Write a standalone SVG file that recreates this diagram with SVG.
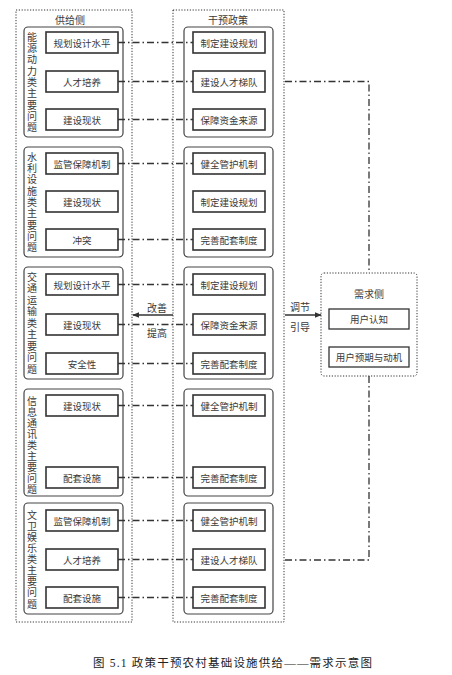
<svg xmlns="http://www.w3.org/2000/svg" width="452" height="675" viewBox="0 0 452 675">
<style>
text{font-family:"Noto Sans CJK SC","Liberation Sans",sans-serif;fill:#3a3a3a;}
.t{font-size:9.5px;text-anchor:middle;dominant-baseline:central;}
.h{font-size:10px;text-anchor:middle;dominant-baseline:central;}
.v{font-size:10px;writing-mode:vertical-rl;text-orientation:upright;letter-spacing:1.3px;}
.outer{fill:none;stroke:#333;stroke-width:1;stroke-dasharray:1.2 1.6;}
.grp{fill:#fff;stroke:#444;stroke-width:1.2;}
.box{fill:#fff;stroke:#333;stroke-width:1.6;}
.dd{fill:none;stroke:#333;stroke-width:1.3;stroke-dasharray:7 3 1.5 3;}
.sol{fill:none;stroke:#333;stroke-width:1.3;}
.cap{font-family:"Liberation Serif","Noto Sans CJK SC",serif;font-size:11.5px;fill:#222;letter-spacing:1.2px;}
</style>
<defs>
<marker id="ah" viewBox="0 0 10 10" refX="9" refY="5" markerWidth="7" markerHeight="7" markerUnits="userSpaceOnUse" orient="auto">
<path d="M0,1 L10,5 L0,9 Z" fill="#333"/>
</marker>
</defs>
<rect width="452" height="675" fill="#fff"/>

<g id="supply">
<rect class="outer" x="16" y="10" width="116" height="612"/>
<text class="h" x="70" y="19">供给侧</text>
</g>
<g id="policy">
<rect class="outer" x="173" y="10" width="111" height="612"/>
<text class="h" x="228" y="19">干预政策</text>
</g>

<g id="supply-g1">
<rect class="grp" x="24" y="27" width="99" height="110" rx="4"/>
<text class="v" x="32" y="32">能源动力类主要问题</text>
<rect class="box" x="46" y="32" width="72" height="21"/><text class="t" x="82" y="42.5">规划设计水平</text>
<rect class="box" x="46" y="71" width="72" height="21"/><text class="t" x="82" y="81.5">人才培养</text>
<rect class="box" x="46" y="109" width="72" height="21"/><text class="t" x="82" y="119.5">建设现状</text>
</g>
<g id="supply-g2">
<rect class="grp" x="24" y="147" width="99" height="110" rx="4"/>
<text class="v" x="32" y="152">水利设施类主要问题</text>
<rect class="box" x="46" y="153" width="72" height="21"/><text class="t" x="82" y="163.5">监管保障机制</text>
<rect class="box" x="46" y="191" width="72" height="21"/><text class="t" x="82" y="201.5">建设现状</text>
<rect class="box" x="46" y="229" width="72" height="21"/><text class="t" x="82" y="239.5">冲突</text>
</g>
<g id="supply-g3">
<rect class="grp" x="24" y="267" width="99" height="112" rx="4"/>
<text class="v" x="32" y="272" style="letter-spacing:1.5px">交通运输类主要问题</text>
<rect class="box" x="46" y="274" width="72" height="21"/><text class="t" x="82" y="284.5">规划设计水平</text>
<rect class="box" x="46" y="314" width="72" height="21"/><text class="t" x="82" y="324.5">建设现状</text>
<rect class="box" x="46" y="353" width="72" height="21"/><text class="t" x="82" y="363.5">安全性</text>
</g>
<g id="supply-g4">
<rect class="grp" x="24" y="389" width="99" height="107" rx="4"/>
<text class="v" x="32" y="396" style="letter-spacing:1px">信息通讯类主要问题</text>
<rect class="box" x="46" y="395" width="72" height="21"/><text class="t" x="82" y="405.5">建设现状</text>
<rect class="box" x="46" y="467" width="72" height="21"/><text class="t" x="82" y="477.5">配套设施</text>
</g>
<g id="supply-g5">
<rect class="grp" x="24" y="503" width="99" height="111" rx="4"/>
<text class="v" x="32" y="510" style="letter-spacing:1.1px">文卫娱乐类主要问题</text>
<rect class="box" x="46" y="510" width="72" height="21"/><text class="t" x="82" y="520.5">监管保障机制</text>
<rect class="box" x="46" y="549" width="72" height="21"/><text class="t" x="82" y="559.5">人才培养</text>
<rect class="box" x="46" y="587" width="72" height="21"/><text class="t" x="82" y="597.5">配套设施</text>
</g>

<g id="policy-g1">
<rect class="grp" x="184" y="27" width="89" height="110" rx="4"/>
<rect class="box" x="193" y="32" width="72" height="21"/><text class="t" x="229" y="42.5">制定建设规划</text>
<rect class="box" x="193" y="71" width="72" height="21"/><text class="t" x="229" y="81.5">建设人才梯队</text>
<rect class="box" x="193" y="109" width="72" height="21"/><text class="t" x="229" y="119.5">保障资金来源</text>
</g>
<g id="policy-g2">
<rect class="grp" x="184" y="147" width="89" height="110" rx="4"/>
<rect class="box" x="193" y="153" width="72" height="21"/><text class="t" x="229" y="163.5">健全管护机制</text>
<rect class="box" x="193" y="191" width="72" height="21"/><text class="t" x="229" y="201.5">制定建设规划</text>
<rect class="box" x="193" y="229" width="72" height="21"/><text class="t" x="229" y="239.5">完善配套制度</text>
</g>
<g id="policy-g3">
<rect class="grp" x="184" y="267" width="89" height="112" rx="4"/>
<rect class="box" x="193" y="274" width="72" height="21"/><text class="t" x="229" y="284.5">制定建设规划</text>
<rect class="box" x="193" y="314" width="72" height="21"/><text class="t" x="229" y="324.5">保障资金来源</text>
<rect class="box" x="193" y="353" width="72" height="21"/><text class="t" x="229" y="363.5">完善配套制度</text>
</g>
<g id="policy-g4">
<rect class="grp" x="184" y="389" width="89" height="107" rx="4"/>
<rect class="box" x="193" y="395" width="72" height="21"/><text class="t" x="229" y="405.5">健全管护机制</text>
<rect class="box" x="193" y="467" width="72" height="21"/><text class="t" x="229" y="477.5">完善配套制度</text>
</g>
<g id="policy-g5">
<rect class="grp" x="184" y="503" width="89" height="111" rx="4"/>
<rect class="box" x="193" y="510" width="72" height="21"/><text class="t" x="229" y="520.5">健全管护机制</text>
<rect class="box" x="193" y="549" width="72" height="21"/><text class="t" x="229" y="559.5">建设人才梯队</text>
<rect class="box" x="193" y="587" width="72" height="21"/><text class="t" x="229" y="597.5">完善配套制度</text>
</g>

<g id="demand">
<rect class="outer" x="321" y="273" width="96" height="103" rx="3"/>
<text class="h" x="369" y="293">需求侧</text>
<rect class="box" x="329" y="309" width="80" height="20" style="stroke-width:1.3"/><text class="t" x="369" y="319">用户认知</text>
<rect class="box" x="329" y="347" width="80" height="20" style="stroke-width:1.3"/><text class="t" x="369" y="357">用户预期与动机</text>
</g>

<g id="connectors">
<line class="dd" x1="118" y1="42.5" x2="193" y2="42.5"/>
<line class="dd" x1="118" y1="81.5" x2="193" y2="81.5"/>
<line class="dd" x1="118" y1="119.5" x2="193" y2="119.5"/>
<line class="dd" x1="118" y1="163.5" x2="193" y2="163.5"/>
<line class="dd" x1="118" y1="239.5" x2="193" y2="239.5"/>
<line class="dd" x1="118" y1="284.5" x2="193" y2="284.5"/>
<line class="dd" x1="118" y1="324.5" x2="193" y2="324.5"/>
<line class="dd" x1="118" y1="363.5" x2="193" y2="363.5"/>
<line class="dd" x1="118" y1="405.5" x2="193" y2="405.5"/>
<line class="dd" x1="118" y1="477.5" x2="193" y2="477.5"/>
<line class="dd" x1="118" y1="520.5" x2="193" y2="520.5"/>
<line class="dd" x1="118" y1="559.5" x2="193" y2="559.5"/>
<line class="dd" x1="118" y1="597.5" x2="193" y2="597.5"/>
<polyline class="dd" points="285,81.5 369,81.5 369,273"/>
<polyline class="dd" points="369,376 369,560 285,560"/>
<line class="sol" x1="173" y1="315" x2="133" y2="315" marker-end="url(#ah)"/>
<text class="h" x="157" y="307">改善</text>
<text class="h" x="157" y="332">提高</text>
<line class="sol" x1="285" y1="315" x2="321" y2="315" marker-end="url(#ah)"/>
<text class="h" x="300" y="306">调节</text>
<text class="h" x="300" y="326">引导</text>
</g>

<text class="cap" x="93" y="667">图 5.1 政策干预农村基础设施供给——需求示意图</text>
</svg>
